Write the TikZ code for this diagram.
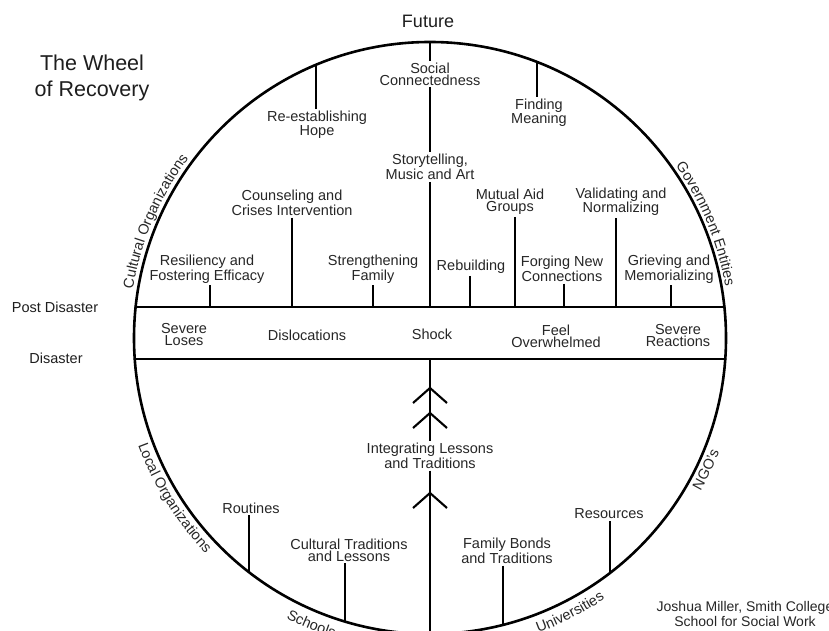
\documentclass[tikz,border=0pt]{standalone}
\usepackage{fontspec}
\setmainfont{Liberation Sans}
\usetikzlibrary{decorations.text}
\definecolor{lbl}{HTML}{262626}
\definecolor{dark}{HTML}{1E1E1E}
\newcommand\curvfont{\fontsize{14.5}{14.5}\selectfont\color{lbl}}
\begin{document}
\begin{tikzpicture}[x=1pt,y=1pt,
  lab/.style={align=center, text=lbl, font=\fontsize{14.5}{12}\selectfont, inner sep=0pt, outer sep=2pt},
  rim/.style={line width=2.6pt, line cap=round},
  tick/.style={line width=2.1pt},
  curv/.style={decorate, decoration={text along path, text align=center}}]
\useasboundingbox (0,0) rectangle (829,631);
\clip (0,0) rectangle (829,631);
\coordinate (C) at (430,293);
% wheel
\draw[rim] (C) circle[radius=296];
\coordinate (btL) at (135.6,324); \coordinate (btR) at (724.4,324);
\coordinate (bbL) at (134.7,272); \coordinate (bbR) at (725.3,272);
\draw[rim] (btL) -- (btR);
\draw[rim] (bbL) -- (bbR);
% titles
\node[align=center, text=dark, font=\fontsize{21.5}{26}\selectfont, inner sep=0pt] (title) at (92,553) {The Wheel\\of Recovery};
\node[text=dark, font=\fontsize{18}{18}\selectfont, inner sep=0pt] (future) at (428,610) {Future};
\node[text=dark, font=\fontsize{14.5}{14.5}\selectfont, inner sep=0pt] (post) at (55,324) {Post Disaster};
\node[text=dark, font=\fontsize{14.5}{14.5}\selectfont, inner sep=0pt] (dis) at (56,273) {Disaster};
\node[lab, font=\fontsize{14}{15}\selectfont] (credit) at (745,17.5) {Joshua Miller, Smith College\\School for Social Work};
% band labels
\node[lab] (sl) at (184,296) {Severe\\Loses};
\node[lab] (dl) at (307,296) {Dislocations};
\node[lab] (sh) at (432,297) {Shock};
\node[lab] (fo) at (556,295) {Feel\\Overwhelmed};
\node[lab] (sr) at (678,295) {Severe\\Reactions};
% upper labels
\node[lab] (hope) at (317,506) {Re-establishing\\Hope};
\node[lab] (soc) at (430,557) {Social\\Connectedness};
\node[lab] (mean) at (539,518) {Finding\\Meaning};
\node[lab, font=\fontsize{14.5}{15}\selectfont] (story) at (430,464) {Storytelling,\\Music and Art};
\node[lab] (couns) at (292,428) {Counseling and\\Crises Intervention};
\node[lab] (mut) at (510,429) {Mutual Aid\\Groups};
\node[lab] (val) at (621,429) {Validating and\\Normalizing};
\node[lab] (res) at (207,362) {Resiliency and\\Fostering Efficacy};
\node[lab] (str) at (373,362) {Strengthening\\Family};
\node[lab] (reb) at (471,364) {Rebuilding};
\node[lab] (forg) at (562,362) {Forging New\\Connections};
\node[lab] (grv) at (669,362) {Grieving and\\Memorializing};
% lower labels
\node[lab] (integ) at (430,175) {Integrating Lessons\\and Traditions};
\node[lab] (rout) at (251,123) {Routines};
\node[lab] (ctl) at (349,81) {Cultural Traditions\\and Lessons};
\node[lab] (fbt) at (507,80) {Family Bonds\\and Traditions};
\node[lab] (rsc) at (609,117) {Resources};
% tick end points
\coordinate (tRes) at (210,324); \coordinate (tCou) at (292,324);
\coordinate (tStr) at (373,324); \coordinate (tReb) at (470,324);
\coordinate (tMut) at (515,324); \coordinate (tFor) at (564,324);
\coordinate (tVal) at (616,324); \coordinate (tGrv) at (671,324);
\coordinate (cHope) at (316,566.2); \coordinate (cMean) at (537,569);
\coordinate (cTop) at (430,589); \coordinate (tMid) at (430,324);
\coordinate (bMid) at (430,272); \coordinate (cBot) at (430,-3);
\coordinate (cRout) at (249,58.8); \coordinate (cCT) at (345,9.5);
\coordinate (cFB) at (503,6.1); \coordinate (cRsc) at (610,58);
% ticks
\foreach \n/\t in {res/tRes, couns/tCou, str/tStr, reb/tReb, mut/tMut, forg/tFor, val/tVal, grv/tGrv, rout/cRout, ctl/cCT, fbt/cFB, rsc/cRsc}
  \draw[tick] (\n.south -| \t) -- (\t);
\draw[tick] (hope.north -| cHope) -- (cHope);
\draw[tick] (mean.north -| cMean) -- (cMean);
% central spine
\draw[tick] (cTop) -- (soc.north);
\draw[tick] (soc.south) -- (story.north);
\draw[tick] (story.south) -- (tMid);
\draw[tick] (bMid) -- (integ.north);
\draw[tick] (integ.south) -- (cBot);
% chevrons
\coordinate (ch1) at (430,243); \coordinate (ch2) at (430,218); \coordinate (ch3) at (430,138);
\foreach \c in {ch1,ch2,ch3}
  \draw[tick, line join=miter] (\c) ++(-17,-15) -- (\c) -- ++(17,-15);
% curved labels
\path[curv, decoration={text={|\curvfont|Cultural Organizations}}] (C) ++(177:301) arc[start angle=177, end angle=137, radius=301];
\path[curv, decoration={text={|\curvfont|Government Entities}}] (C) ++(42.5:300) arc[start angle=42.5, end angle=2.5, radius=300];
\path[curv, decoration={text={|\curvfont|Local Organizations}}] (C) ++(192:311) arc[start angle=192, end angle=232, radius=311];
\path[curv, decoration={text={|\curvfont|Schools}}] (C) ++(235:315) arc[start angle=235, end angle=260, radius=315];
\path[curv, decoration={text={|\curvfont|Universities}}] (C) ++(282:314) arc[start angle=282, end angle=312, radius=314];
\path[curv, decoration={text={|\curvfont|NGO's}}] (C) ++(-38:311) arc[start angle=-38, end angle=-13, radius=311];
\end{tikzpicture}
\end{document}
